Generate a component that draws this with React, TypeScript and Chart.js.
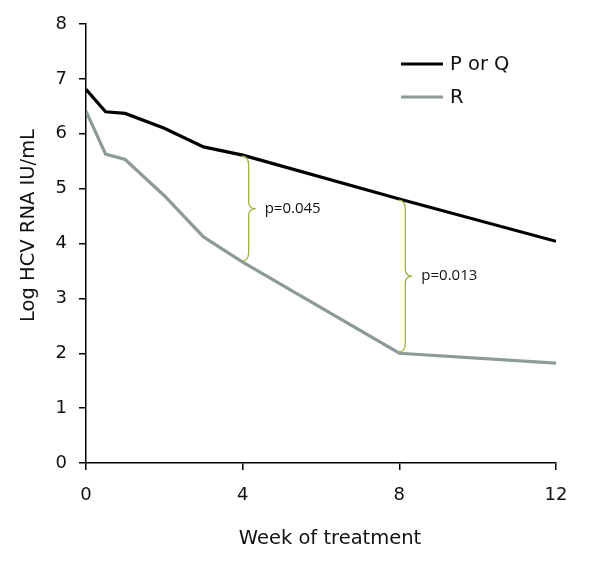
import React, { useEffect, useRef } from "react";
import { Chart, registerables } from "chart.js";

Chart.register(...registerables);

const weeks = [0, 0.5, 1, 2, 3, 4, 8, 12];
const pOrQValues = [6.81, 6.4, 6.37, 6.1, 5.76, 5.61, 4.81, 4.04];
const rValues = [6.41, 5.63, 5.53, 4.87, 4.12, 3.66, 2.0, 1.82];
const seriesLabels = ["P or Q", "R"];
const seriesColors = ["#000000", "#8c9b9a"];
const braceWeeks = [4, 8];
const pLabels = ["p=0.045", "p=0.013"];
const xTitle = "Week of treatment";
const yTitle = "Log HCV RNA IU/mL";

const FONT = "'DejaVu Sans', Verdana, sans-serif";

const bracePlugin = {
  id: "braces",
  afterDatasetsDraw(chart: any) {
    const { ctx, scales } = chart;
    const xs = scales.x;
    const ys = scales.y;
    ctx.save();
    braceWeeks.forEach((w, i) => {
      const idx = weeks.indexOf(w);
      const x = xs.getPixelForValue(w) - 1;
      const yTop = ys.getPixelForValue(pOrQValues[idx]) + 1;
      const yBot = ys.getPixelForValue(rValues[idx]) - 1;
      const ym = (yTop + yBot) / 2;
      const dx = 7;
      const tip = 14;
      const r = 9;
      const r2 = 7;
      ctx.beginPath();
      ctx.moveTo(x, yTop);
      ctx.quadraticCurveTo(x + dx, yTop, x + dx, yTop + r);
      ctx.lineTo(x + dx, ym - r2);
      ctx.quadraticCurveTo(x + dx, ym, x + tip, ym);
      ctx.quadraticCurveTo(x + dx, ym, x + dx, ym + r2);
      ctx.lineTo(x + dx, yBot - r);
      ctx.quadraticCurveTo(x + dx, yBot, x, yBot);
      ctx.strokeStyle = "#a5ae3e";
      ctx.lineWidth = 1.3;
      ctx.stroke();
      ctx.fillStyle = "#111";
      ctx.font = "15px 'Open Sans', sans-serif";
      ctx.textAlign = "left";
      ctx.textBaseline = "middle";
      ctx.fillText(pLabels[i], x + tip + 9, ym);
    });
    ctx.restore();
  },
  afterDraw(chart: any) {
    const { ctx, chartArea } = chart;
    ctx.save();
    // legend
    const x0 = chartArea.right - 155;
    const x1 = x0 + 42;
    chart.data.datasets.forEach((ds: any, i: number) => {
      const y = chartArea.top + 40 + i * 33;
      ctx.beginPath();
      ctx.moveTo(x0, y);
      ctx.lineTo(x1, y);
      ctx.strokeStyle = ds.borderColor;
      ctx.lineWidth = 3.2;
      ctx.stroke();
      ctx.fillStyle = "#111";
      ctx.font = "19.5px " + FONT;
      ctx.textAlign = "left";
      ctx.textBaseline = "middle";
      ctx.fillText(ds.label, x1 + 7, y + 1);
    });
    // axis titles
    ctx.fillStyle = "#111";
    ctx.font = "19.5px " + FONT;
    ctx.textAlign = "center";
    ctx.textBaseline = "middle";
    ctx.fillText(xTitle, (chartArea.left + chartArea.right) / 2 + 9, chartArea.bottom + 76);
    ctx.translate(29, (chartArea.top + chartArea.bottom) / 2 - 18);
    ctx.rotate(-Math.PI / 2);
    ctx.fillText(yTitle, 0, 0);
    ctx.restore();
  },
};

export default function App() {
  const ref = useRef<HTMLCanvasElement>(null);
  useEffect(() => {
    document.body.style.margin = "0";
    const canvas = ref.current!;
    const chart = new Chart(canvas, {
      type: "line",
      data: {
        datasets: [
          {
            label: seriesLabels[0],
            data: weeks.map((w, i) => ({ x: w, y: pOrQValues[i] })),
            borderColor: seriesColors[0],
            backgroundColor: seriesColors[0],
            borderWidth: 3.2,
            pointRadius: 0,
            tension: 0,
          },
          {
            label: seriesLabels[1],
            data: weeks.map((w, i) => ({ x: w, y: rValues[i] })),
            borderColor: seriesColors[1],
            backgroundColor: seriesColors[1],
            borderWidth: 3.2,
            pointRadius: 0,
            tension: 0,
          },
        ],
      },
      options: {
        responsive: false,
        animation: false,
        layout: { padding: { top: 24, right: 44, left: 0, bottom: 0 } },
        plugins: { legend: { display: false }, tooltip: { enabled: false } },
        scales: {
          x: {
            type: "linear",
            min: 0,
            max: 12,
            afterFit: (s: any) => {
              s.height = 107;
            },
            ticks: {
              stepSize: 4,
              padding: 15,
              color: "#111",
              font: { family: FONT, size: 18 },
            },
            grid: {
              drawOnChartArea: false,
              drawTicks: true,
              tickLength: 7,
              color: "#000",
              lineWidth: 1.5,
            },
            border: { color: "#000", width: 1.5 },
          },
          y: {
            min: 0,
            max: 8,
            afterFit: (s: any) => {
              s.width = 86;
            },
            ticks: {
              stepSize: 1,
              padding: 12,
              color: "#111",
              font: { family: FONT, size: 18 },
            },
            grid: {
              drawOnChartArea: false,
              drawTicks: true,
              tickLength: 7,
              color: "#000",
              lineWidth: 1.5,
            },
            border: { color: "#000", width: 1.5 },
          },
        },
      },
      plugins: [bracePlugin],
    } as any);
    return () => chart.destroy();
  }, []);
  return <canvas ref={ref} width={600} height={570} />;
}
